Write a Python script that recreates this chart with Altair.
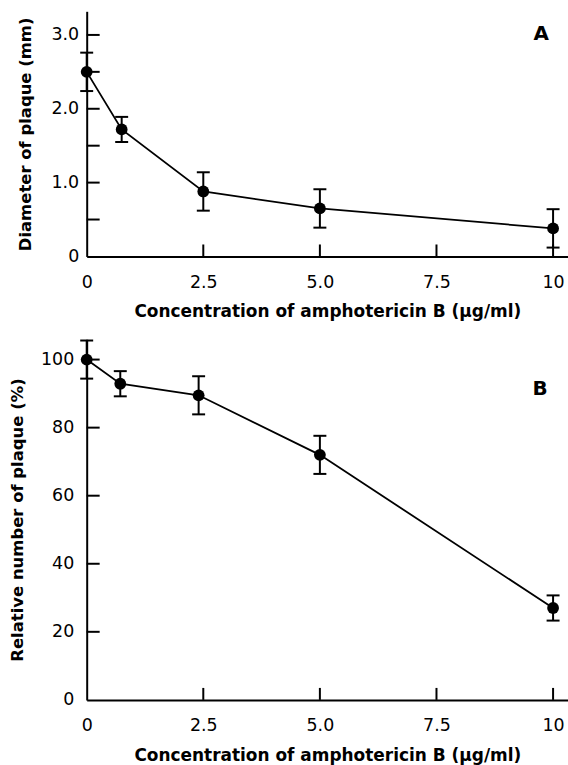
import altair as alt
import pandas as pd

# ---- data ----
conc_a = [0, 0.75, 2.5, 5.0, 10]
diam = [2.50, 1.72, 0.88, 0.65, 0.38]
diam_err = [0.26, 0.17, 0.26, 0.26, 0.26]

conc_b = [0, 0.72, 2.4, 5.0, 10]
rel = [100, 92.9, 89.5, 72.0, 27.0]
rel_err = [5.6, 3.7, 5.6, 5.6, 3.7]

x_label_values = [0, 2.5, 5.0, 7.5, 10]
x_inner_ticks = [2.5, 5.0, 7.5, 10]
a_y_label_values = [0, 1.0, 2.0, 3.0]
a_y_inner_ticks = [0.5, 1.0, 1.5, 2.0, 2.5, 3.0]
b_y_label_values = [0, 20, 40, 60, 80, 100]
b_y_inner_ticks = [20, 40, 60, 80, 100]

X_TITLE = "Concentration of amphotericin B (μg/ml)"
FONT = "DejaVu Sans"
W = 483


def panel(xv, yv, ev, ydom, yvals, yinner, ytitle, letter, h,
          ylabpad, ytitlepad, ylabexpr, letter_x, letter_y):
    df = pd.DataFrame({
        "x": xv, "y": yv,
        "lo": [a - b for a, b in zip(yv, ev)],
        "hi": [a + b for a, b in zip(yv, ev)],
    })
    xs = alt.Scale(domain=[0, 10.32], nice=False, zero=False)
    ys = alt.Scale(domain=ydom, nice=False, zero=False)
    xaxis = alt.Axis(
        values=x_label_values, title=X_TITLE,
        labelExpr="datum.value == 0 ? '0' : datum.value == 10 ? '10' : format(datum.value, '.1f')",
        ticks=False, tickSize=0, labelPadding=17, titlePadding=13, grid=False,
        domainWidth=2, domainColor="black", labelFont=FONT, labelFontSize=17.5,
        labelColor="black", titleFont=FONT, titleFontSize=17, titleFontWeight="bold",
        titleColor="black", labelFlush=False, labelOverlap=False,
    )
    yaxis = alt.Axis(
        values=yvals, title=ytitle, labelExpr=ylabexpr,
        ticks=False, tickSize=0, labelPadding=ylabpad, titlePadding=ytitlepad, grid=False,
        domainWidth=2, domainColor="black", labelFont=FONT, labelFontSize=17.5,
        labelColor="black", titleFont=FONT, titleFontSize=16.5, titleFontWeight="bold",
        titleColor="black", labelFlush=False, labelOverlap=False,
    )
    X = lambda f: alt.X(f, scale=xs, axis=xaxis)
    Y = lambda f: alt.Y(f, scale=ys, axis=yaxis)

    base = alt.Chart(df)
    line = base.mark_line(color="black", strokeWidth=1.8).encode(x=X("x:Q"), y=Y("y:Q"))
    err = base.mark_rule(color="black", strokeWidth=2).encode(
        x=X("x:Q"), y=Y("lo:Q"), y2="hi:Q")
    cap_hi = base.mark_tick(orient="horizontal", size=13, thickness=2, color="black", opacity=1).encode(
        x=X("x:Q"), y=Y("hi:Q"))
    cap_lo = base.mark_tick(orient="horizontal", size=13, thickness=2, color="black", opacity=1).encode(
        x=X("x:Q"), y=Y("lo:Q"))
    pts = base.mark_circle(size=140, color="black", opacity=1).encode(x=X("x:Q"), y=Y("y:Q"))
    yt = alt.Chart(pd.DataFrame({"v": yinner})).mark_rule(color="black", strokeWidth=2).encode(
        y=Y("v:Q"), x=alt.value(0), x2=alt.value(13))
    xt = alt.Chart(pd.DataFrame({"v": x_inner_ticks})).mark_rule(color="black", strokeWidth=2).encode(
        x=X("v:Q"), y=alt.value(h), y2=alt.value(h - 12))
    lab = alt.Chart(pd.DataFrame({"t": [letter]})).mark_text(
        font=FONT, fontSize=20, fontWeight="bold", align="center",
        baseline="alphabetic", color="black",
    ).encode(text="t:N", x=alt.value(letter_x), y=alt.value(letter_y))
    return alt.layer(line, err, cap_hi, cap_lo, pts, yt, xt, lab).properties(width=W, height=h)


top = panel(conc_a, diam, diam_err, [0, 3.32], a_y_label_values, a_y_inner_ticks,
            "Diameter of plaque (mm)", "A", 246, 8, 18,
            "datum.value == 0 ? '0' : format(datum.value, '.1f')", 456, 29)
bottom = panel(conc_b, rel, rel_err, [0, 106], b_y_label_values, b_y_inner_ticks,
               "Relative number of plaque (%)", "B", 362, 13, 15,
               "format(datum.value, 'd')", 455, 56)

chart = alt.vconcat(top, bottom, spacing=19).properties(
    padding={"left": 9, "top": 10, "right": 0, "bottom": 0},
    background="white",
).configure_view(stroke=None)

chart.save("out.html", embed_options={"renderer": "svg", "actions": False})
